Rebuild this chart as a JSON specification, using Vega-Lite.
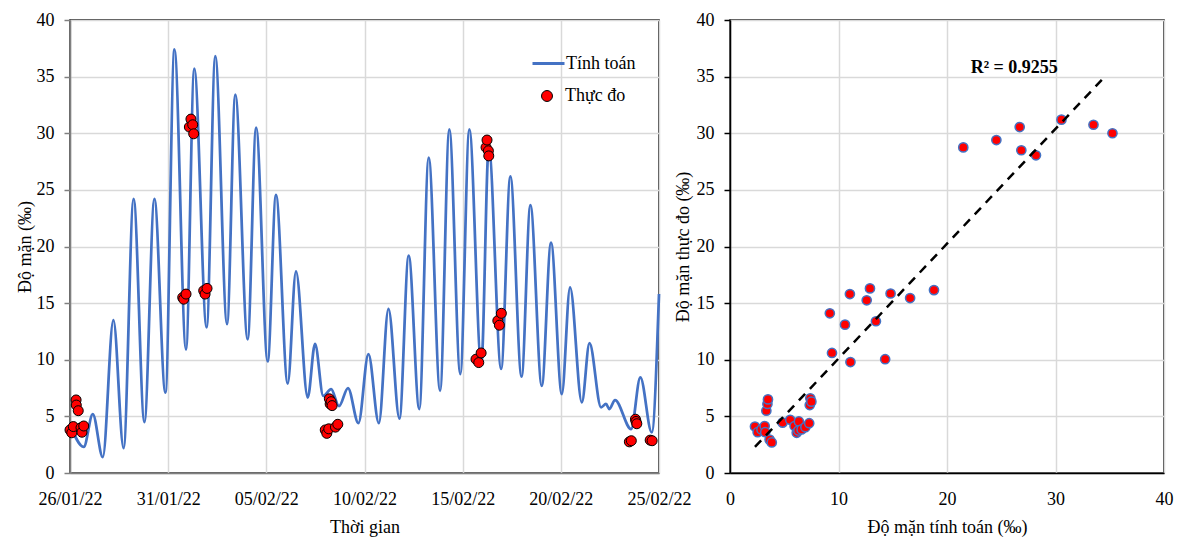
{
  "$schema": "https://vega.github.io/schema/vega-lite/v6.json",
  "padding": {"left": 15, "top": 10, "right": 5, "bottom": 0},
  "background": "white",
  "config": {
    "font": "Liberation Serif",
    "view": {"stroke": "black", "strokeWidth": 1.5},
    "axis": {
      "labelFont": "Liberation Serif", "titleFont": "Liberation Serif",
      "labelFontSize": 18, "titleFontSize": 18, "labelColor": "black", "titleColor": "black",
      "titleFontWeight": "normal", "gridColor": "#d9d9d9", "gridWidth": 1.5,
      "tickSize": 6, "tickWidth": 1.5, "labelPadding": 10, "domainWidth": 1.5, "labelFlush": false
    },
    "legend": {"labelFont": "Liberation Serif", "labelFontSize": 18, "labelColor": "black", "padding": 0, "labelLimit": 300}
  },
  "datasets": {
    "sim": [
      {"t": "2022-01-26T00:00", "v": 4.3},
      {"t": "2022-01-26T16:48", "v": 2.3},
      {"t": "2022-01-27T03:50", "v": 5.2},
      {"t": "2022-01-27T16:05", "v": 1.4},
      {"t": "2022-01-28T05:02", "v": 13.5},
      {"t": "2022-01-28T17:31", "v": 2.2},
      {"t": "2022-01-29T05:46", "v": 24.2},
      {"t": "2022-01-29T18:58", "v": 4.5},
      {"t": "2022-01-30T07:12", "v": 24.2},
      {"t": "2022-01-30T20:38", "v": 7.1},
      {"t": "2022-01-31T07:41", "v": 37.4},
      {"t": "2022-01-31T21:50", "v": 10.9},
      {"t": "2022-02-01T07:55", "v": 35.7},
      {"t": "2022-02-01T23:02", "v": 12.85},
      {"t": "2022-02-02T09:36", "v": 36.8},
      {"t": "2022-02-03T00:00", "v": 13.15},
      {"t": "2022-02-03T10:05", "v": 33.4},
      {"t": "2022-02-04T01:12", "v": 11.8},
      {"t": "2022-02-04T11:31", "v": 30.5},
      {"t": "2022-02-05T01:41", "v": 9.85},
      {"t": "2022-02-05T11:46", "v": 24.55},
      {"t": "2022-02-06T02:10", "v": 7.9},
      {"t": "2022-02-06T12:14", "v": 17.8},
      {"t": "2022-02-07T02:38", "v": 6.67},
      {"t": "2022-02-07T11:31", "v": 11.4},
      {"t": "2022-02-07T21:36", "v": 6.8},
      {"t": "2022-02-08T07:12", "v": 7.4},
      {"t": "2022-02-08T16:48", "v": 5.9},
      {"t": "2022-02-09T03:50", "v": 7.5},
      {"t": "2022-02-09T16:34", "v": 4.4},
      {"t": "2022-02-10T04:48", "v": 10.5},
      {"t": "2022-02-10T17:31", "v": 4.4},
      {"t": "2022-02-11T05:17", "v": 14.5},
      {"t": "2022-02-11T18:43", "v": 4.8},
      {"t": "2022-02-12T06:00", "v": 19.2},
      {"t": "2022-02-12T18:58", "v": 5.65},
      {"t": "2022-02-13T06:29", "v": 27.85},
      {"t": "2022-02-13T20:24", "v": 7.26},
      {"t": "2022-02-14T07:41", "v": 30.35},
      {"t": "2022-02-14T21:07", "v": 8.74},
      {"t": "2022-02-15T08:10", "v": 30.35},
      {"t": "2022-02-15T22:48", "v": 9.6},
      {"t": "2022-02-16T07:55", "v": 28.8},
      {"t": "2022-02-16T23:02", "v": 9.2},
      {"t": "2022-02-17T10:19", "v": 26.2},
      {"t": "2022-02-18T00:00", "v": 8.5},
      {"t": "2022-02-18T10:48", "v": 23.65},
      {"t": "2022-02-19T00:43", "v": 7.7},
      {"t": "2022-02-19T12:00", "v": 20.35},
      {"t": "2022-02-20T01:12", "v": 6.97},
      {"t": "2022-02-20T11:17", "v": 16.4},
      {"t": "2022-02-21T01:41", "v": 6.23},
      {"t": "2022-02-21T11:02", "v": 11.47},
      {"t": "2022-02-22T01:12", "v": 5.8},
      {"t": "2022-02-22T07:12", "v": 6.1},
      {"t": "2022-02-22T11:17", "v": 5.65},
      {"t": "2022-02-22T18:14", "v": 6.44},
      {"t": "2022-02-23T13:55", "v": 3.88},
      {"t": "2022-02-24T01:12", "v": 8.44},
      {"t": "2022-02-24T15:07", "v": 3.58},
      {"t": "2022-02-25T00:00", "v": 15.8}
    ],
    "obs": [
      {"t": "2022-01-26T00:00", "v": 3.8},
      {"t": "2022-01-26T02:10", "v": 3.55},
      {"t": "2022-01-26T04:05", "v": 4.1},
      {"t": "2022-01-26T07:26", "v": 6.45},
      {"t": "2022-01-26T07:41", "v": 6.0},
      {"t": "2022-01-26T10:05", "v": 5.5},
      {"t": "2022-01-26T13:26", "v": 4.0},
      {"t": "2022-01-26T14:38", "v": 3.6},
      {"t": "2022-01-26T16:48", "v": 4.15},
      {"t": "2022-01-31T17:46", "v": 15.5},
      {"t": "2022-01-31T18:58", "v": 15.35},
      {"t": "2022-01-31T21:50", "v": 15.8},
      {"t": "2022-02-01T01:55", "v": 30.55},
      {"t": "2022-02-01T03:50", "v": 31.25},
      {"t": "2022-02-01T06:00", "v": 30.75},
      {"t": "2022-02-01T07:12", "v": 29.95},
      {"t": "2022-02-01T19:26", "v": 16.1},
      {"t": "2022-02-01T21:07", "v": 15.8},
      {"t": "2022-02-01T23:31", "v": 16.3},
      {"t": "2022-02-08T00:00", "v": 3.8},
      {"t": "2022-02-08T01:55", "v": 3.5},
      {"t": "2022-02-08T04:19", "v": 3.9},
      {"t": "2022-02-08T05:02", "v": 6.55},
      {"t": "2022-02-08T06:00", "v": 6.1},
      {"t": "2022-02-08T07:12", "v": 6.3},
      {"t": "2022-02-08T08:24", "v": 5.95},
      {"t": "2022-02-08T12:29", "v": 4.05},
      {"t": "2022-02-08T15:22", "v": 4.3},
      {"t": "2022-02-15T16:19", "v": 10.05},
      {"t": "2022-02-15T19:41", "v": 9.75},
      {"t": "2022-02-15T22:34", "v": 10.6},
      {"t": "2022-02-16T04:34", "v": 28.75},
      {"t": "2022-02-16T05:46", "v": 29.4},
      {"t": "2022-02-16T07:26", "v": 28.45},
      {"t": "2022-02-16T07:55", "v": 28.0},
      {"t": "2022-02-16T18:58", "v": 13.45},
      {"t": "2022-02-16T20:53", "v": 13.05},
      {"t": "2022-02-16T23:17", "v": 14.1},
      {"t": "2022-02-23T11:46", "v": 2.75},
      {"t": "2022-02-23T14:10", "v": 2.85},
      {"t": "2022-02-23T19:12", "v": 4.75},
      {"t": "2022-02-23T19:55", "v": 4.55},
      {"t": "2022-02-23T20:53", "v": 4.35},
      {"t": "2022-02-24T13:12", "v": 2.9},
      {"t": "2022-02-24T15:36", "v": 2.85}
    ],
    "scatter": [
      {"x": 21.5, "y": 28.75}, {"x": 24.55, "y": 29.4}, {"x": 26.7, "y": 30.55}, {"x": 26.85, "y": 28.5},
      {"x": 28.2, "y": 28.05}, {"x": 30.55, "y": 31.2}, {"x": 33.5, "y": 30.75}, {"x": 35.25, "y": 30.0},
      {"x": 11.05, "y": 15.8}, {"x": 12.6, "y": 15.25}, {"x": 12.9, "y": 16.3}, {"x": 14.8, "y": 15.85},
      {"x": 16.6, "y": 15.45}, {"x": 18.8, "y": 16.15}, {"x": 9.2, "y": 14.1}, {"x": 10.6, "y": 13.1},
      {"x": 13.45, "y": 13.4}, {"x": 9.4, "y": 10.6}, {"x": 11.1, "y": 9.8}, {"x": 14.3, "y": 10.05},
      {"x": 2.3, "y": 4.1}, {"x": 2.55, "y": 3.6}, {"x": 2.9, "y": 3.85}, {"x": 3.2, "y": 4.15},
      {"x": 3.25, "y": 3.6}, {"x": 3.35, "y": 5.5}, {"x": 3.45, "y": 6.1}, {"x": 3.5, "y": 6.5},
      {"x": 3.65, "y": 2.95}, {"x": 3.85, "y": 2.7}, {"x": 4.85, "y": 4.45}, {"x": 5.55, "y": 4.7},
      {"x": 5.95, "y": 4.15}, {"x": 6.15, "y": 3.55}, {"x": 6.35, "y": 4.55}, {"x": 6.3, "y": 3.75},
      {"x": 6.6, "y": 3.85}, {"x": 6.95, "y": 4.05}, {"x": 7.3, "y": 4.4}, {"x": 7.35, "y": 6.0},
      {"x": 7.4, "y": 6.6}, {"x": 7.5, "y": 6.3}
    ],
    "trend": [
      {"x": 2.3, "y": 2.3},
      {"x": 34.7, "y": 35.15}
    ]
  },
  "bounds": "flush",
  "spacing": 71,
  "resolve": {
    "scale": {"stroke": "independent", "fill": "independent"},
    "legend": {"stroke": "independent", "fill": "independent"}
  },
  "hconcat": [
    {
      "width": 589,
      "height": 453,
      "layer": [
        {
          "data": {"name": "sim"},
          "mark": {"type": "line", "interpolate": "monotone", "strokeWidth": 2.75},
          "encoding": {
            "x": {
              "field": "t", "type": "temporal", "title": "Thời gian",
              "scale": {"domain": [{"year": 2022, "month": 1, "date": 26}, {"year": 2022, "month": 2, "date": 25}]},
              "axis": {
                "values": [
                  {"year": 2022, "month": 1, "date": 26}, {"year": 2022, "month": 1, "date": 31},
                  {"year": 2022, "month": 2, "date": 5}, {"year": 2022, "month": 2, "date": 10},
                  {"year": 2022, "month": 2, "date": 15}, {"year": 2022, "month": 2, "date": 20},
                  {"year": 2022, "month": 2, "date": 25}
                ],
                "format": "%d/%m/%y", "labelAngle": 0, "ticks": false, "labelPadding": 17,
                "domainColor": "#808080", "titlePadding": 10, "labelOverlap": false
              }
            },
            "y": {
              "field": "v", "type": "quantitative", "title": "Độ mặn (‰)",
              "scale": {"domain": [0, 40]},
              "axis": {"values": [0, 5, 10, 15, 20, 25, 30, 35, 40], "domainColor": "#808080", "tickColor": "#808080", "titlePadding": 2}
            },
            "stroke": {
              "datum": "Tính toán", "type": "nominal",
              "scale": {"range": ["#4472C4"]},
              "legend": {"title": null, "orient": "none", "legendX": 461, "legendY": 26, "symbolType": "stroke", "symbolSize": 1024, "symbolStrokeWidth": 3, "labelOffset": 0}
            }
          }
        },
        {
          "data": {"name": "obs"},
          "mark": {"type": "circle", "size": 100, "stroke": "black", "strokeWidth": 1, "opacity": 1},
          "encoding": {
            "x": {"field": "t", "type": "temporal"},
            "y": {"field": "v", "type": "quantitative"},
            "fill": {
              "datum": "Thực đo", "type": "nominal",
              "scale": {"range": ["#FF0000"]},
              "legend": {"title": null, "orient": "none", "legendX": 468, "legendY": 67, "symbolType": "circle", "symbolSize": 120, "symbolStrokeColor": "black", "symbolStrokeWidth": 1, "symbolOpacity": 1, "labelOffset": 9}
            }
          }
        }
      ]
    },
    {
      "width": 434,
      "height": 453,
      "layer": [
        {
          "data": {"name": "scatter"},
          "mark": {"type": "circle", "size": 85, "fill": "#FF0000", "stroke": "#4472C4", "strokeWidth": 1.5, "opacity": 1},
          "encoding": {
            "x": {
              "field": "x", "type": "quantitative", "title": "Độ mặn tính toán (‰)",
              "scale": {"domain": [0, 40]},
              "axis": {"values": [0, 10, 20, 30, 40], "ticks": false, "labelPadding": 17, "domainColor": "black", "titlePadding": 10}
            },
            "y": {
              "field": "y", "type": "quantitative", "title": "Độ mặn thực đo (‰)",
              "scale": {"domain": [0, 40]},
              "axis": {"values": [0, 5, 10, 15, 20, 25, 30, 35, 40], "domainColor": "black", "tickColor": "black", "titlePadding": 4}
            }
          }
        },
        {
          "data": {"name": "trend"},
          "mark": {"type": "line", "stroke": "black", "strokeWidth": 2.5, "strokeDash": [9, 7]},
          "encoding": {
            "x": {"field": "x", "type": "quantitative"},
            "y": {"field": "y", "type": "quantitative"}
          }
        },
        {
          "data": {"values": [{"x": 26.2, "y": 35.75, "label": "R² = 0.9255"}]},
          "mark": {"type": "text", "fontWeight": "bold", "fontSize": 18, "font": "Liberation Serif", "color": "black"},
          "encoding": {
            "x": {"field": "x", "type": "quantitative"},
            "y": {"field": "y", "type": "quantitative"},
            "text": {"field": "label"}
          }
        }
      ]
    }
  ]
}
